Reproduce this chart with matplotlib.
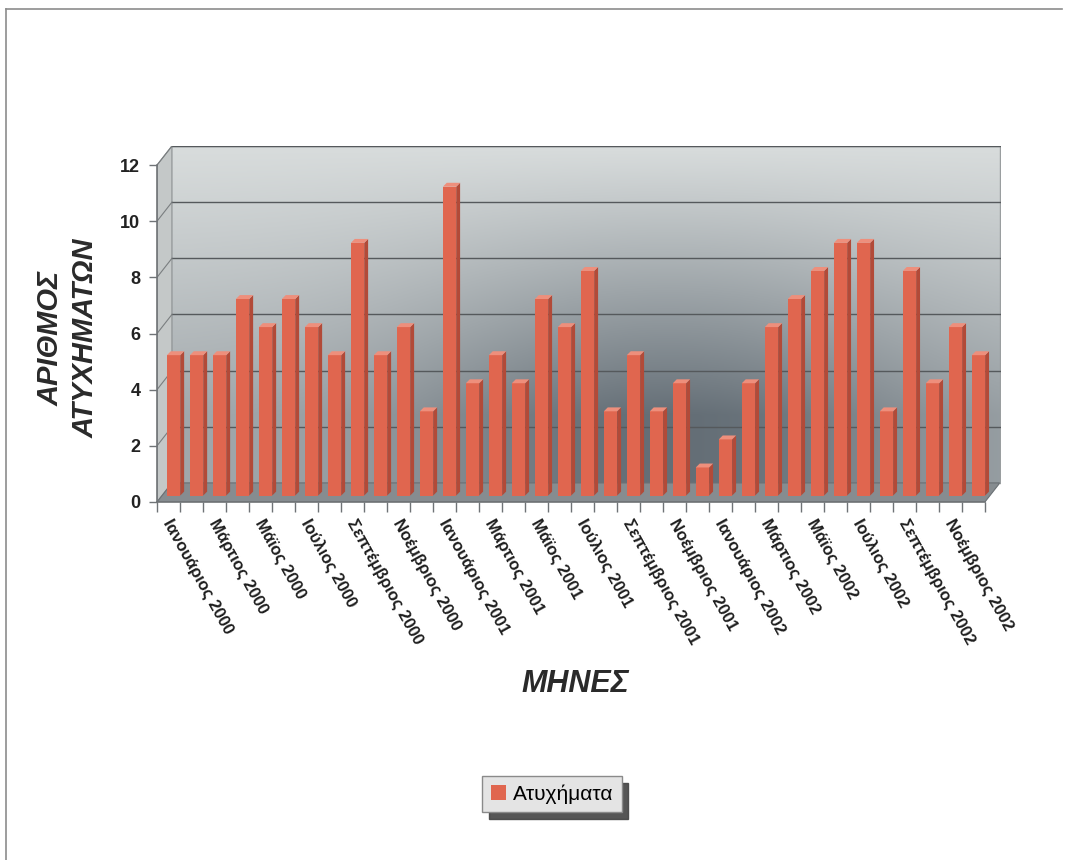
import numpy as np
import matplotlib
matplotlib.use("Agg")
import matplotlib.pyplot as plt
from matplotlib.patches import Polygon, Patch
from matplotlib.lines import Line2D
import matplotlib.transforms as mtransforms

plt.rcParams['font.family'] = ['Liberation Sans', 'DejaVu Sans']

# μηνιαία ατυχήματα 2000-2002
month_names = ["Ιανουάριος", "Φεβρουάριος", "Μάρτιος", "Απρίλιος", "Μάϊος", "Ιούνιος",
               "Ιούλιος", "Αύγουστος", "Σεπτέμβριος", "Οκτώβριος", "Νοέμβριος", "Δεκέμβριος"]
years = [2000, 2001, 2002]
accidents = [5, 5, 5, 7, 6, 7, 6, 5, 9, 5, 6, 3,
             11, 4, 5, 4, 7, 6, 8, 3, 5, 3, 4, 1,
             2, 4, 6, 7, 8, 9, 9, 3, 8, 4, 6, 5]
yticks = [0, 2, 4, 6, 8, 10, 12]

labels = ["%s %d" % (m, y) for y in years for m in month_names]
n = len(accidents)

# βάθος του 3Δ κουτιού (σε μονάδες δεδομένων)
DX, DY = 0.65, 0.68
# θέση και βάθος των ράβδων
BW = 0.58
OX, OY = 0.22, 0.23
BDX, BDY = 0.17, 0.14

fig = plt.figure(figsize=(10.65, 8.6), dpi=100)
fig.patch.set_facecolor('white')

ax = fig.add_axes([157/1065, 358/860, 844/1065, 356/860])
ax.set_xlim(0, n + DX + 0.05)
ax.set_ylim(0, 12 + DY)
ax.patch.set_visible(False)

# πίσω τοίχος με διαβάθμιση
gx = np.linspace(0, 1, 300)
gy = np.linspace(0, 1, 200)
U, V = np.meshgrid(gx, gy)
light = np.array([216, 220, 220]) / 255.0
dark = np.array([100, 110, 118]) / 255.0
t = np.clip((1 - V) * 1.25, 0, 1) ** 1.1 * (0.45 + 0.55 * np.exp(-((U - 0.6) / 0.33) ** 2))
t = np.clip(t, 0, 1)
img = light[None, None, :] * (1 - t[..., None]) + dark[None, None, :] * t[..., None]
ax.imshow(img, extent=[DX, n + DX, DY, 12 + DY], origin='lower', aspect='auto', zorder=0)

# πλαϊνός τοίχος και δάπεδο
ax.add_patch(Polygon([(0, 0), (DX, DY), (DX, 12 + DY), (0, 12)], closed=True,
                     facecolor='#c4c8c8', edgecolor='#8a8e90', lw=0.8, zorder=1))
ax.add_patch(Polygon([(0, 0), (n, 0), (n + DX, DY), (DX, DY)], closed=True,
                     facecolor='#868c90', edgecolor='#6a7074', lw=0.8, zorder=1))
ax.plot([DX, n + DX, n + DX], [12 + DY, 12 + DY, DY], color='#9a9ea0', lw=1, zorder=1)

# γραμμές πλέγματος
for v in yticks[1:]:
    ax.plot([DX, n + DX], [v + DY, v + DY], color='#55595c', lw=1.0, zorder=1.5)
    ax.plot([0, DX], [v, v + DY], color='#7a7e80', lw=0.8, zorder=1.5)

# ράβδοι
front = '#e0664f'
side = '#b24a38'
top = '#ee8f7c'
x0 = np.arange(n) + OX + (1 - BW) / 2 - 0.0
ax.bar(x0, accidents, width=BW, bottom=OY, align='edge', color=front,
       edgecolor='none', zorder=3)
for xi, v in zip(x0, accidents):
    yt = v + OY
    ax.add_patch(Polygon([(xi + BW, OY), (xi + BW + BDX, OY + BDY),
                          (xi + BW + BDX, yt + BDY), (xi + BW, yt)],
                         closed=True, facecolor=side, edgecolor='none', zorder=3))
    ax.add_patch(Polygon([(xi, yt), (xi + BW, yt), (xi + BW + BDX, yt + BDY),
                          (xi + BDX, yt + BDY)],
                         closed=True, facecolor=top, edgecolor='none', zorder=3))

# άξονες
for s in ['top', 'right']:
    ax.spines[s].set_visible(False)
ax.spines['left'].set_bounds(0, 12)
ax.spines['bottom'].set_bounds(0, n)
for s in ['left', 'bottom']:
    ax.spines[s].set_color('#6f7376')
    ax.spines[s].set_linewidth(1.2)
    ax.spines[s].set_zorder(4)
ax.set_yticks(yticks)
ax.set_yticklabels([str(v) for v in yticks], fontsize=13, fontweight='bold', color='#222222')
ax.set_xticks(np.arange(n + 1))
ax.set_xticklabels([])
ax.tick_params(axis='y', length=6, width=1, color='#6f7376', pad=6)
ax.tick_params(axis='x', length=7, width=1, color='#6f7376')

# ετικέτες μηνών (ανά δύο)
trans = mtransforms.blended_transform_factory(ax.transData, ax.transAxes)
for i in range(0, n, 2):
    ax.annotate(labels[i], xy=(i + 0.5, 0), xycoords=trans,
                xytext=(-1, -13), textcoords='offset points',
                rotation=-61, rotation_mode='anchor', ha='left', va='center',
                fontsize=12, fontweight='bold', color='#1e1e1e')

fig.text(68/1065, 1 - 338/860, "ΑΡΙΘΜΟΣ\nΑΤΥΧΗΜΑΤΩΝ", rotation=90, ha='center', va='center',
         fontsize=21, fontweight='bold', fontstyle='italic', color='#2a2a2a',
         linespacing=1.3, multialignment='center')
fig.text(575/1065, 1 - 684/860, "ΜΗΝΕΣ", ha='center', va='center',
         fontsize=22, fontweight='bold', fontstyle='italic', color='#2a2a2a')

# υπόμνημα
leg = fig.legend(handles=[Patch(facecolor=front, edgecolor='none')], labels=["Ατυχήματα"],
                 loc='center', bbox_to_anchor=(552/1065, 1 - 794/860),
                 fontsize=15, frameon=True, fancybox=False,
                 shadow={'ox': 5, 'oy': -5, 'color': '#444444', 'alpha': 0.9},
                 handlelength=0.75, handleheight=0.75, handletextpad=0.3,
                 borderpad=0.4, borderaxespad=0)
leg.get_frame().set_facecolor('#e4e4e4')
leg.get_frame().set_edgecolor('#8a8a8a')
leg.get_frame().set_linewidth(1)

# πλαίσιο σελίδας
fig.add_artist(Line2D([6/1065, 1062/1065], [1 - 9/860, 1 - 9/860], color='#8c8c8c', lw=1.2))
fig.add_artist(Line2D([6/1065, 6/1065], [1 - 9/860, 0], color='#8c8c8c', lw=1.2))

fig.savefig("out.png", dpi=100, facecolor='white')
